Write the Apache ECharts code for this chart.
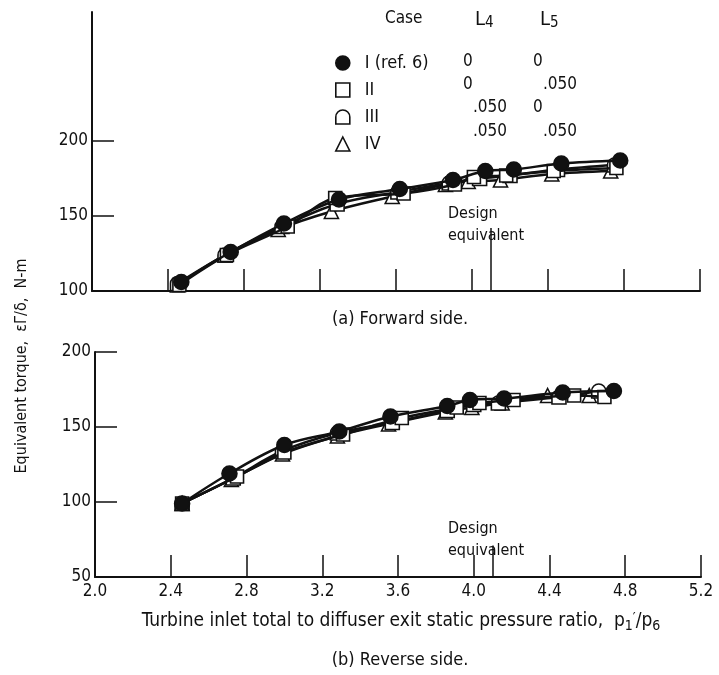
<!DOCTYPE html>
<html>
<head>
<meta charset="utf-8">
<script src="https://cdn.jsdelivr.net/npm/echarts@6/dist/echarts.min.js"></script>
<style>
html, body { margin: 0; padding: 0; background: #fff; }
#chart { width: 719px; height: 675px; }
</style>
</head>
<body>
<div id="chart"></div>
<script>
// legend table
var caseNames = ['I (ref. 6)', 'II', 'III', 'IV'];
var caseL4 = ['0', '0', '.050', '.050'];
var caseL5 = ['0', '.050', '0', '.050'];

// axis ticks
var xMin = 2.0, xMax = 5.2, xStep = 0.4;
var fwdYTicks = [100, 150, 200];
var revYTicks = [50, 100, 150, 200];
var designRatio = 4.1;

// (a) forward side, [pressure ratio, torque N-m]
var fwdI   = [[2.47, 106], [2.73, 126], [3.01, 145], [3.30, 161], [3.62, 168], [3.90, 174], [4.07, 180], [4.22, 181], [4.47, 185], [4.78, 187]];
var fwdII  = [[2.46, 104], [2.71, 124], [3.03, 143], [3.28, 162], [3.64, 165], [3.91, 171], [4.01, 176], [4.18, 177], [4.43, 180], [4.76, 182]];
var fwdIII = [[2.45, 105], [2.70, 124], [3.00, 143], [3.29, 158], [3.61, 166], [3.88, 172], [4.04, 175], [4.20, 177], [4.45, 181], [4.75, 184]];
var fwdIV  = [[2.45, 104], [2.70, 124], [2.98, 141], [3.26, 153], [3.58, 163], [3.86, 171], [3.98, 173], [4.15, 174], [4.42, 178], [4.73, 180]];

// (b) reverse side
var revI   = [[2.46, 99], [2.71, 119], [3.00, 138], [3.29, 147], [3.56, 157], [3.86, 164], [3.98, 168], [4.16, 169], [4.47, 173], [4.74, 174]];
var revII  = [[2.46, 99], [2.75, 117], [3.00, 133], [3.31, 145], [3.62, 156], [3.91, 163], [4.03, 166], [4.21, 168], [4.53, 171], [4.69, 170]];
var revIII = [[2.46, 99], [2.73, 116], [2.99, 134], [3.28, 146], [3.57, 153], [3.86, 161], [4.00, 165], [4.13, 166], [4.45, 170], [4.66, 174]];
var revIV  = [[2.46, 99], [2.72, 115], [2.99, 132], [3.28, 144], [3.55, 152], [3.85, 160], [3.99, 163], [4.15, 166], [4.39, 171], [4.61, 171]];

var FONT = '"Liberation Sans Narrow", "DejaVu Sans Condensed", "Open Sans", sans-serif';
var INK = '#111';
var dShape = 'path://M0,10 L0,5 A5,5 0 0 1 10,5 L10,10 Z';

var symbols = [
  { symbol: 'circle', size: 15, fill: INK },
  { symbol: 'rect', size: 13, fill: '#fff' },
  { symbol: dShape, size: 14, fill: '#fff' },
  { symbol: 'triangle', size: 14, fill: '#fff' }
];

function makeSeries(idx, data, axisIdx, designTop) {
  var s = symbols[idx];
  var out = {
    name: caseNames[idx],
    type: 'line',
    xAxisIndex: axisIdx,
    yAxisIndex: axisIdx,
    data: data,
    smooth: 0.35,
    symbol: s.symbol,
    symbolSize: s.size,
    showAllSymbol: true,
    z: 10 - idx,
    lineStyle: { color: INK, width: 2.5 },
    itemStyle: { color: s.fill, borderColor: INK, borderWidth: 1.6, opacity: 1 },
    emphasis: { disabled: true },
    animation: false
  };
  if (designTop) {
    out.markLine = {
      silent: true,
      symbol: 'none',
      label: { show: false },
      lineStyle: { color: INK, width: 1.5, type: 'solid' },
      data: [[{ coord: [designRatio, designTop[0]] }, { coord: [designRatio, designTop[1]] }]]
    };
  }
  return out;
}

function xAxisOf(gridIdx, showLabels) {
  return {
    type: 'value', gridIndex: gridIdx, min: xMin, max: xMax, interval: xStep,
    axisLine: { lineStyle: { color: INK, width: 2 } },
    axisTick: { inside: true, length: 22, lineStyle: { color: INK, width: 1.5 } },
    axisLabel: {
      show: showLabels, color: INK, fontFamily: FONT, fontSize: 17, margin: 6,
      formatter: function (v) { return v.toFixed(1); }
    },
    splitLine: { show: false }
  };
}

function yAxisOf(gridIdx, min, max, ticks) {
  return {
    type: 'value', gridIndex: gridIdx, min: min, max: max, interval: 50,
    axisLine: { show: true, lineStyle: { color: INK, width: 2 } },
    axisTick: { inside: true, length: 22, customValues: ticks, lineStyle: { color: INK, width: 1.5 } },
    axisLabel: { color: INK, fontFamily: FONT, fontSize: 17, margin: 4, customValues: ticks },
    splitLine: { show: false }
  };
}

var graphics = [
  { type: 'text', x: 400, y: 319, style: { text: '(a) Forward side.', font: '18px ' + FONT, fill: INK, align: 'center', verticalAlign: 'middle' } },
  { type: 'text', x: 400, y: 660, style: { text: '(b) Reverse side.', font: '18px ' + FONT, fill: INK, align: 'center', verticalAlign: 'middle' } },
  { type: 'text', x: 22, y: 366, rotation: Math.PI / 2, style: { text: 'Equivalent torque,  \u03b5\u0393/\u03b4,  N-m', font: '16px ' + FONT, fill: INK, align: 'center', verticalAlign: 'middle' } },
  { type: 'text', x: 401, y: 621, style: {
      text: 'Turbine inlet total to diffuser exit static pressure ratio,  p{sub|1}{sup|\u2032}/p{sub|6}',
      font: '19px ' + FONT, fill: INK, align: 'center', verticalAlign: 'middle',
      rich: { sub: { fontSize: 14, fontFamily: FONT, padding: [10, 0, 0, 0] }, sup: { fontSize: 14, fontFamily: FONT, padding: [0, 0, 6, 0] } }
  } },
  { type: 'text', x: 448, y: 203, style: { text: 'Design\nequivalent', font: '16px ' + FONT, fill: INK, lineHeight: 22 } },
  { type: 'text', x: 448, y: 518, style: { text: 'Design\nequivalent', font: '16px ' + FONT, fill: INK, lineHeight: 22 } },
  { type: 'text', x: 385, y: 10, style: { text: 'Case', font: '17px ' + FONT, fill: INK } },
  { type: 'text', x: 475, y: 8, style: { text: 'L{s|4}', font: '20px ' + FONT, fill: INK, rich: { s: { fontSize: 15, fontFamily: FONT, padding: [8, 0, 0, 0] } } } },
  { type: 'text', x: 540, y: 8, style: { text: 'L{s|5}', font: '20px ' + FONT, fill: INK, rich: { s: { fontSize: 15, fontFamily: FONT, padding: [8, 0, 0, 0] } } } }
];
var rowY = [62, 85, 108, 132];
caseL4.forEach(function (v, i) {
  graphics.push({ type: 'text', x: v === '0' ? 463 : 473, y: rowY[i], style: { text: v, font: '17px ' + FONT, fill: INK, verticalAlign: 'middle' } });
});
caseL5.forEach(function (v, i) {
  graphics.push({ type: 'text', x: v === '0' ? 533 : 543, y: rowY[i], style: { text: v, font: '17px ' + FONT, fill: INK, verticalAlign: 'middle' } });
});

var chart = echarts.init(document.getElementById('chart'), null, { renderer: 'canvas' });
chart.setOption({
  backgroundColor: '#fff',
  animation: false,
  grid: [
    { left: 92, right: 19, top: 12, height: 279 },
    { left: 95, right: 18, top: 352, height: 225 }
  ],
  legend: {
    orient: 'vertical', left: 335, top: 54, padding: 0,
    itemWidth: 14, itemHeight: 14, itemGap: 9,
    selectedMode: false,
    textStyle: { color: INK, fontFamily: FONT, fontSize: 18, padding: [0, 0, 0, 10] },
    data: caseNames.map(function (n, i) {
      return { name: n, icon: symbols[i].symbol, itemStyle: { color: symbols[i].fill, borderColor: INK, borderWidth: 1.6 } };
    })
  },
  xAxis: [xAxisOf(0, false), xAxisOf(1, true)],
  yAxis: [yAxisOf(0, 100, 286, fwdYTicks), yAxisOf(1, 50, 200, revYTicks)],
  graphic: graphics,
  series: [
    makeSeries(3, fwdIV, 0),
    makeSeries(2, fwdIII, 0),
    makeSeries(1, fwdII, 0),
    makeSeries(0, fwdI, 0, [100, 142]),
    makeSeries(3, revIV, 1),
    makeSeries(2, revIII, 1),
    makeSeries(1, revII, 1),
    makeSeries(0, revI, 1, [50, 71])
  ]
});
</script>
</body>
</html>
